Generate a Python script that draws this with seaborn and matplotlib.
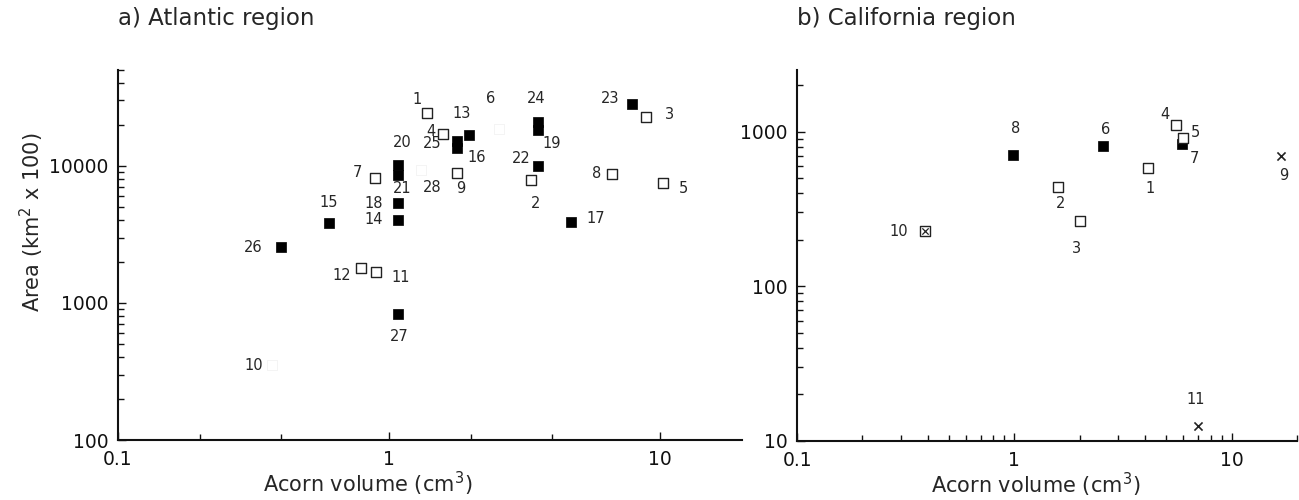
import matplotlib
matplotlib.use("Agg")
import matplotlib.pyplot as plt
import matplotlib.ticker as mticker
import seaborn as sns
import pandas as pd

# ---------------- data ----------------
# a) Atlantic region
atl_id    = [1, 2, 3, 4, 5, 6, 7, 8, 9, 10, 11, 12, 13, 14,
             15, 16, 17, 18, 19, 20, 21, 22, 23, 24, 25, 26, 27, 28]
atl_vol   = [1.38, 3.34, 8.85, 1.58, 10.2, 2.55, 0.89, 6.64, 1.78, 0.37, 0.895, 0.79, 1.97, 1.08,
             0.60, 1.78, 4.68, 1.08, 3.54, 1.08, 1.08, 3.54, 7.86, 3.54, 1.78, 0.40, 1.08, 1.31]
atl_area  = [24300, 7900, 22600, 17100, 7500, 18500, 8100, 8750, 8900, 350, 1690, 1790, 16900, 4040,
             3820, 13500, 3920, 5350, 18300, 10150, 8600, 9900, 28200, 20900, 15200, 2550, 830, 9400]
atl_kind  = ["open", "open", "open", "open", "open", "faint", "open", "open", "open", "faint", "open", "open", "filled", "filled",
             "filled", "filled", "filled", "filled", "filled", "filled", "filled", "filled", "filled", "filled", "filled", "filled", "filled", "faint"]

# b) California region
cal_id   = [1, 2, 3, 4, 5, 6, 7, 8, 9, 10, 11]
cal_vol  = [4.11, 1.58, 2.0, 5.52, 5.98, 2.56, 5.9, 0.986, 16.9, 0.389, 7.0]
cal_area = [581, 441, 265, 1100, 910, 807, 835, 702, 695, 226, 12.5]
cal_kind = ["open", "open", "open", "open", "open", "filled", "filled", "filled", "cross", "crossbox", "cross"]

# label offsets (points) - layout only
atl_off = {1: (-7, 10), 2: (3, -17), 3: (17, 2), 4: (-9, 2), 5: (15, -4), 6: (-6, 22),
           7: (-13, 4), 8: (-11, 0), 9: (3, -11), 10: (-13, 0), 11: (18, -4), 12: (-14, -5),
           13: (-5, 15), 14: (-18, 0), 15: (0, 15), 16: (14, -7), 17: (18, 2), 18: (-18, 0),
           19: (10, -10), 20: (3, 16), 21: (3, -10), 22: (-12, 6), 23: (-16, 4), 24: (-1, 17),
           25: (-18, -2), 26: (-20, 0), 27: (1, -16), 28: (8, -13)}
cal_off = {1: (2, -15), 2: (2, -12), 3: (-2, -20), 4: (-8, 8), 5: (9, 4), 6: (2, 12),
           7: (9, -11), 8: (2, 19), 9: (2, -14), 10: (-19, 0), 11: (-2, 19)}

atl = pd.DataFrame({"id": atl_id, "vol": atl_vol, "area": atl_area, "kind": atl_kind})
cal = pd.DataFrame({"id": cal_id, "vol": cal_vol, "area": cal_area, "kind": cal_kind})

# ---------------- style ----------------
sns.set_style("ticks")
plt.rcParams["font.family"] = ["DejaVu Sans"]
plt.rcParams["mathtext.fontset"] = "dejavusans"

fig = plt.figure(figsize=(12.99, 5.0), dpi=100)
axA = fig.add_axes([0.0908, 0.12, 0.4804, 0.74])
axB = fig.add_axes([0.6136, 0.118, 0.3849, 0.742])


def draw(ax, df, ms):
    styles = {
        "filled": dict(marker="s", color="black", edgecolor="black", linewidth=0.5, s=ms ** 2),
        "open": dict(marker="s", color="white", edgecolor="#222222", linewidth=1.0, s=ms ** 2),
        "faint": dict(marker="s", color="white", edgecolor="#f2f2f2", linewidth=0.6, s=ms ** 2),
        "cross": dict(marker="x", color="#222222", linewidth=1.2, s=(ms * 0.9) ** 2),
    }
    for kind, kw in styles.items():
        sub = df[df["kind"] == kind]
        if len(sub):
            sns.scatterplot(data=sub, x="vol", y="area", ax=ax, legend=False, zorder=3, **kw)
    sub = df[df["kind"] == "crossbox"]
    if len(sub):
        sns.scatterplot(data=sub, x="vol", y="area", ax=ax, legend=False, zorder=3,
                        marker="s", color="white", edgecolor="#222222", linewidth=1.0, s=ms ** 2)
        sns.scatterplot(data=sub, x="vol", y="area", ax=ax, legend=False, zorder=4,
                        marker="x", color="#222222", linewidth=0.9, s=(ms * 0.7) ** 2)


draw(axA, atl, 7.0)
draw(axB, cal, 6.5)

for _, r in atl.iterrows():
    axA.annotate(str(r["id"]), (r["vol"], r["area"]), xytext=atl_off[r["id"]],
                 textcoords="offset points", ha="center", va="center", fontsize=10.5)
for _, r in cal.iterrows():
    axB.annotate(str(r["id"]), (r["vol"], r["area"]), xytext=cal_off[r["id"]],
                 textcoords="offset points", ha="center", va="center", fontsize=10.5)

for ax in (axA, axB):
    ax.set_xscale("log")
    ax.set_yscale("log")
    sns.despine(ax=ax)
    for s in ("left", "bottom"):
        ax.spines[s].set_linewidth(1.5)
        ax.spines[s].set_color("#111111")
    ax.tick_params(which="both", direction="in", labelsize=13.5, colors="#111111", width=1.0)
    ax.tick_params(which="major", length=6, pad=7)
    ax.tick_params(which="minor", length=4)
    ax.set_xlim(0.1, 20)
    ax.set_xticks([0.1, 1, 10])
    ax.set_xticklabels(["0.1", "1", "10"])
    ax.set_xlabel(r"Acorn volume (cm$^{3}$)", fontsize=15)

axA.set_ylim(100, 50000)
axA.set_yticks([100, 1000, 10000])
axA.set_yticklabels(["100", "1000", "10000"])
axA.yaxis.set_minor_locator(mticker.LogLocator(base=10, subs=range(2, 10)))
axA.yaxis.set_minor_formatter(mticker.NullFormatter())
axA.xaxis.set_minor_locator(mticker.FixedLocator([0.2, 0.4, 2, 4]))
axA.xaxis.set_minor_formatter(mticker.NullFormatter())
axA.set_ylabel(r"Area (km$^{2}$ x 100)", fontsize=15)
axA.yaxis.set_label_coords(-0.115, 0.59)
axA.xaxis.set_label_coords(0.40, -0.08)

axB.set_ylim(10, 2500)
axB.set_yticks([10, 100, 1000])
axB.set_yticklabels(["10", "100", "1000"])
axB.yaxis.set_minor_locator(mticker.LogLocator(base=10, subs=range(2, 10)))
axB.yaxis.set_minor_formatter(mticker.NullFormatter())
axB.xaxis.set_minor_locator(mticker.LogLocator(base=10, subs=range(2, 10)))
axB.xaxis.set_minor_formatter(mticker.NullFormatter())
axB.set_ylabel("")
axB.xaxis.set_label_coords(0.478, -0.08)

fig.text(118 / 1299, 1 - 18 / 500, "a) Atlantic region", fontsize=16.5, ha="left", va="center")
fig.text(797 / 1299, 1 - 18 / 500, "b) California region", fontsize=16.5, ha="left", va="center")

fig.savefig("out.png", dpi=100, facecolor="white")
